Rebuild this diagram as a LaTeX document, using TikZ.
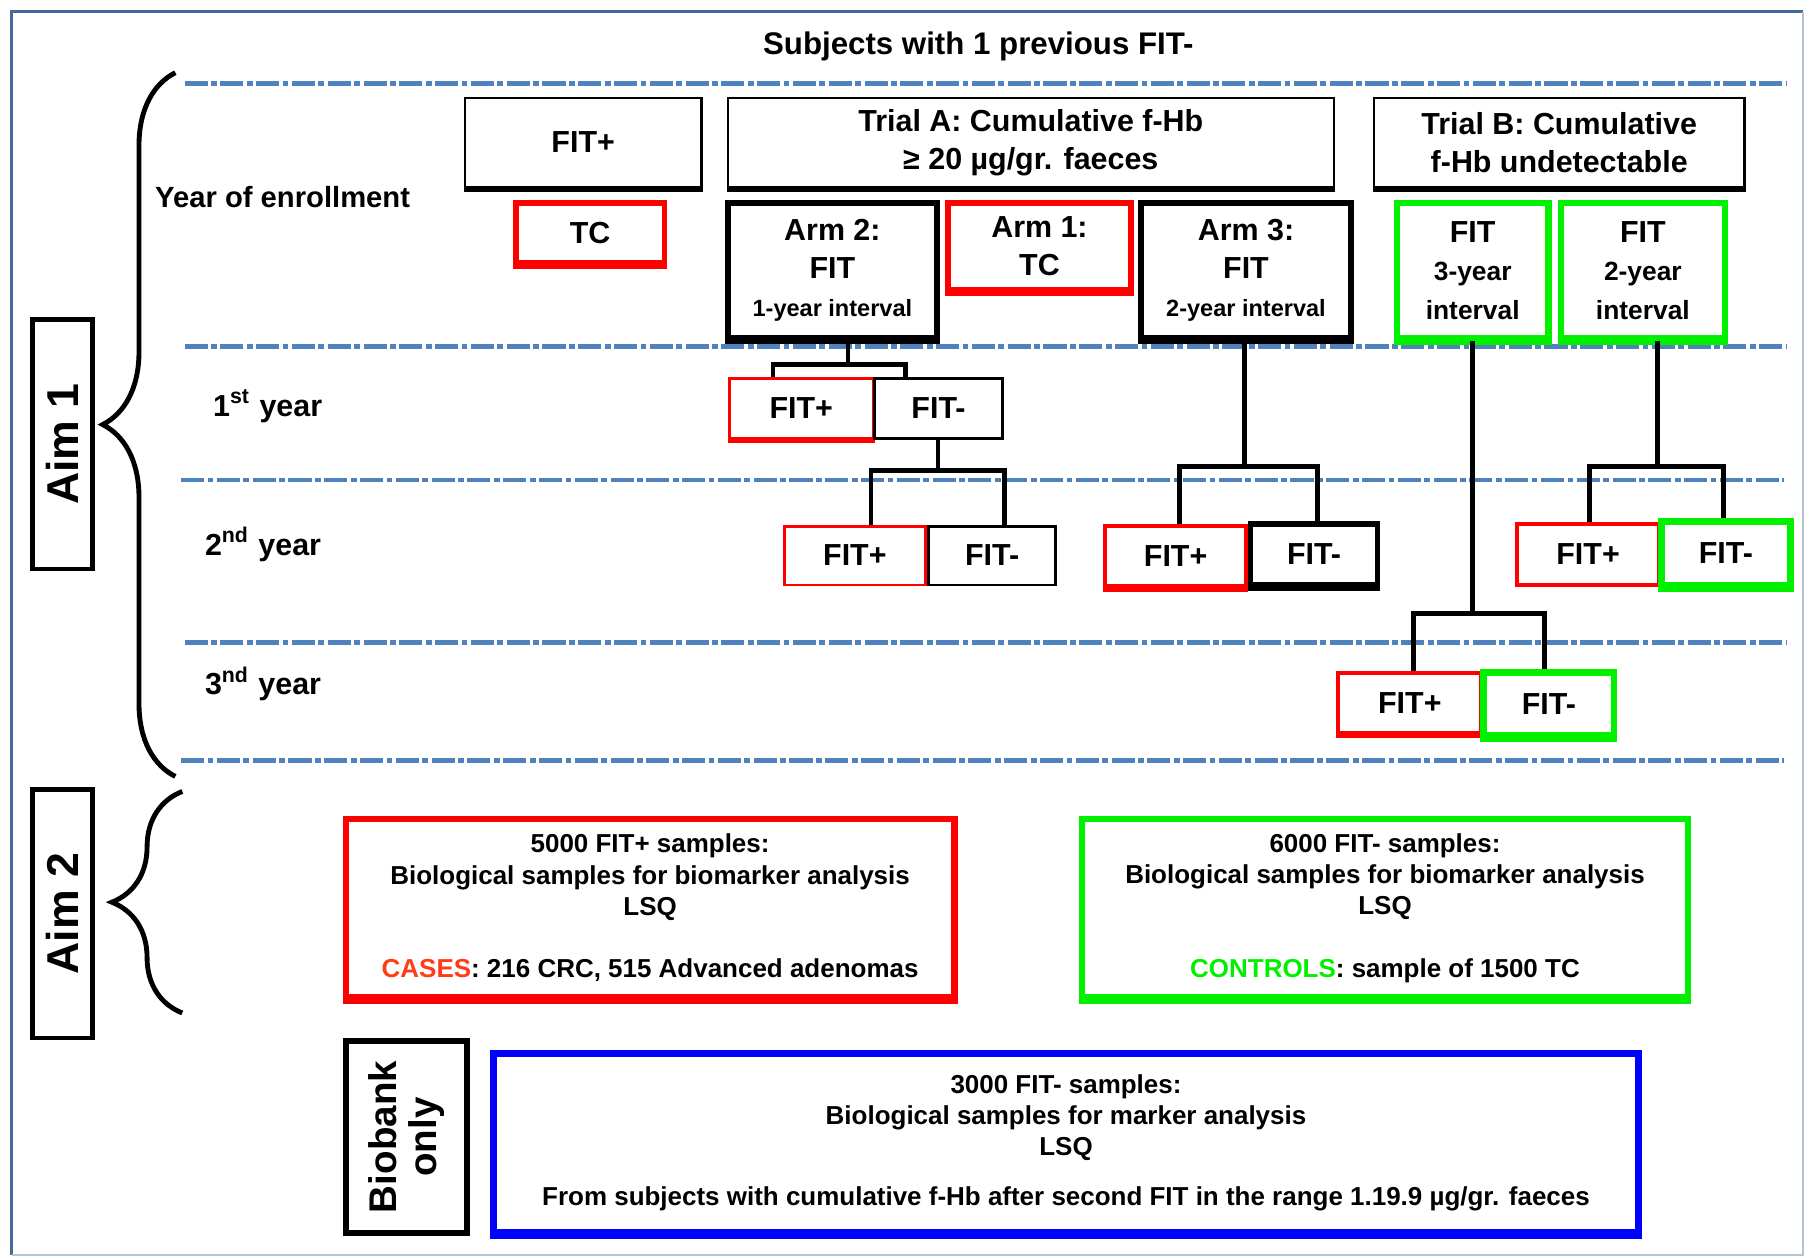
\documentclass[tikz,border=0pt]{standalone}
\usepackage{fontspec}
\setmainfont{Liberation Sans}
\usepackage{graphicx}
\usepackage{xcolor}
\usepackage{tikz}
\usetikzlibrary{positioning}
\usetikzlibrary{decorations.pathreplacing}

\definecolor{lineblue}{RGB}{79,129,189}
\definecolor{frameblue}{RGB}{70,105,155}
\definecolor{fitred}{RGB}{255,0,0}
\definecolor{fitgreen}{RGB}{0,240,0}
\definecolor{caseorange}{RGB}{255,60,20}
\definecolor{bankblue}{RGB}{0,0,255}

\newcommand{\lblfont}{\bfseries\fontsize{7.5}{9.4}\selectfont}
\newcommand{\smallfont}{\fontsize{5.8}{7}\selectfont}
\newcommand{\midfont}{\fontsize{6.5}{7.7}\selectfont}
\newcommand{\samplefont}{\bfseries\fontsize{6.4}{7.7}\selectfont}
\newcommand{\aimfont}{\bfseries\fontsize{11}{12}\selectfont}

\tikzset{
	box/.style={draw, fill=white, inner sep=0pt, align=center, font=\lblfont},
	thinbox/.style={box, line width=0.7pt},
	thickbox/.style={box, line width=1.4pt},
	sunk/.style={preaction={draw=#1, fill=#1, transform canvas={yshift=-0.03cm}}},
	conn/.style={line width=1.2pt},
	yearline/.style={lineblue, line width=1.2pt, dash pattern=on 0.2cm off 0.03cm on 0.05cm off 0.03cm},
	bracket/.style={decorate, decoration={brace, amplitude=#1}, line width=1.2pt},
	aimbox/.style={draw, line width=1.1pt, rotate=90, inner sep=0pt, align=center, font=\aimfont},
	samplebox/.style={box, line width=1.6pt, font=\samplefont},
}

\begin{document}
\begin{tikzpicture}[x=0.01cm, y=-0.01cm]
	\useasboundingbox (0,0) rectangle (1568,1090);
	
	%frame
	\draw[frameblue, line width=0.9pt] (10,1088) -- (10,10) -- (1563,10);
	\draw[frameblue!40, line width=0.5pt] (1563,10) -- (1563,1088) -- (10,1088);
	
	%title
	\node[font=\bfseries\fontsize{7.7}{9}\selectfont] (title) at (848,40) {Subjects with 1 previous FIT-};
	
	%year lines
	\draw[yearline] (160,72) -- (1548,72);
	\draw[yearline] (160,300) -- (1548,300);
	\draw[yearline] (157,416) -- (1546,416);
	\draw[yearline] (160,557) -- (1548,557);
	\draw[yearline] (157,659) -- (1546,659);
	
	%braces
	\draw[bracket=0.63cm] (152,673) -- (152,63);
	\draw[bracket=0.61cm] (158,878) -- (158,686);
	
	%aims
	\node[aimbox, minimum width=2.16cm, minimum height=0.52cm] (aim1) at (54,385) {Aim 1};
	\node[aimbox, minimum width=2.15cm, minimum height=0.52cm] (aim2) at (54,792) {Aim 2};
	\node[aimbox, line width=1.5pt, minimum width=1.66cm, minimum height=1.05cm, font=\bfseries\fontsize{9.5}{10}\selectfont] (bankonly) at (352.5,985.5) {Biobank\\only};
	
	%labels
	\node[font=\bfseries\fontsize{7.2}{9}\selectfont] (enroll) at (245,171) {Year of enrollment};
	\node[font=\lblfont] (yr1) at (232,352) {1\textsuperscript{st} year};
	\node[font=\lblfont] (yr2) at (228,472) {2\textsuperscript{nd} year};
	\node[font=\lblfont] (yr3) at (228,593) {3\textsuperscript{nd} year};
	
	%enrollment boxes
	\node[box, line width=0.6pt, sunk=black, minimum width=2.05cm, minimum height=0.77cm] (hdrfit) at (505.5,123.5) {FIT+};
	\node[box, line width=0.6pt, sunk=black, minimum width=5.25cm, minimum height=0.77cm] (trialA) at (893.5,123.5) {Trial A: Cumulative f-Hb\\≥ 20 µg/gr. faeces};
	\node[box, line width=0.6pt, sunk=black, minimum width=3.21cm, minimum height=0.77cm] (trialB) at (1351.5,123.5) {Trial B: Cumulative\\f-Hb undetectable};
	
	\node[thickbox, draw=fitred, sunk=fitred, minimum width=1.29cm, minimum height=0.52cm] (tc0) at (511.5,202) {TC};
	\node[thickbox, sunk=black, minimum width=1.81cm, minimum height=1.17cm] (arm2) at (721.5,234.5) {Arm 2:\\FIT\\{\smallfont 1-year interval}};
	\node[thickbox, draw=fitred, sunk=fitred, minimum width=1.58cm, minimum height=0.75cm] (arm1) at (901,213.5) {Arm 1:\\TC};
	\node[thickbox, sunk=black, minimum width=1.82cm, minimum height=1.17cm] (arm3) at (1080,234.5) {Arm 3:\\FIT\\{\smallfont 2-year interval}};
	\node[thickbox, line width=1.6pt, draw=fitgreen, sunk=fitgreen, minimum width=1.31cm, minimum height=1.17cm] (fit3) at (1276.5,234.5) {FIT\\{\midfont 3-year}\\{\midfont interval}};
	\node[thickbox, line width=1.6pt, draw=fitgreen, sunk=fitgreen, minimum width=1.42cm, minimum height=1.17cm] (fit2) at (1424,234.5) {FIT\\{\midfont 2-year}\\{\midfont interval}};
	
	%1st year
	\node[thinbox, draw=fitred, sunk=fitred, minimum width=1.25cm, minimum height=0.52cm] (y1p) at (694.5,354) {FIT+};
	\node[thinbox, minimum width=1.11cm, minimum height=0.52cm] (y1m) at (813.5,354) {FIT-};
	
	%2nd year
	\node[thinbox, draw=fitred, minimum width=1.22cm, minimum height=0.51cm] (y2ap) at (741,481.5) {FIT+};
	\node[thinbox, minimum width=1.10cm, minimum height=0.51cm] (y2am) at (860,481.5) {FIT-};
	\node[thinbox, line width=1pt, draw=fitred, sunk=fitred, minimum width=1.22cm, minimum height=0.52cm] (y2bp) at (1019,482) {FIT+};
	\node[thickbox, sunk=black, minimum width=1.10cm, minimum height=0.53cm] (y2bm) at (1139,480.5) {FIT-};
	\node[thinbox, line width=1pt, draw=fitred, minimum width=1.23cm, minimum height=0.53cm] (y2cp) at (1376.5,480.5) {FIT+};
	\node[thickbox, line width=1.6pt, draw=fitgreen, sunk=fitgreen, minimum width=1.12cm, minimum height=0.55cm] (y2cm) at (1496,479.5) {FIT-};
	
	%3rd year
	\node[thinbox, line width=1pt, draw=fitred, sunk=fitred, minimum width=1.24cm, minimum height=0.52cm] (y3p) at (1222,609) {FIT+};
	\node[thickbox, line width=1.6pt, draw=fitgreen, sunk=fitgreen, minimum width=1.13cm, minimum height=0.54cm] (y3m) at (1342.5,610) {FIT-};
	
	%connectors
	\coordinate (j1) at (735,316);
	\coordinate (j2) at (813,408);
	\coordinate (j3) at (1079,404);
	\coordinate (j4) at (1437,404);
	\coordinate (j5) at (1276,532);
	\draw[conn] (arm2.south -| j1) -- (j1);
	\draw[conn] (y1p.north -| 670,0) |- (j1) -| (y1m.north -| 785,0);
	\draw[conn] (y1m.south -| j2) -- (j2);
	\draw[conn] (y2ap.north -| 755,0) |- (j2) -| (y2am.north -| 871,0);
	\draw[conn] (arm3.south -| j3) -- (j3);
	\draw[conn] (y2bp.north -| 1022,0) |- (j3) -| (y2bm.north -| 1142,0);
	\draw[conn] (fit2.south -| j4) -- (j4);
	\draw[conn] (y2cp.north -| 1378,0) |- (j4) -| (y2cm.north -| 1494,0);
	\draw[conn] (fit3.south -| j5) -- (j5);
	\draw[conn] (y3p.north -| 1225,0) |- (j5) -| (y3m.north -| 1339,0);
	
	%samples
	\node[samplebox, draw=fitred, sunk=fitred, minimum width=5.27cm, minimum height=1.54cm] (cases) at (563.5,787) {5000 FIT+ samples:\\Biological samples for biomarker analysis\\LSQ\\[0.27cm]{\color{caseorange}CASES}: 216 CRC, 515 Advanced adenomas};
	\node[samplebox, draw=fitgreen, sunk=fitgreen, minimum width=5.25cm, minimum height=1.54cm] (controls) at (1200.5,787) {6000 FIT- samples:\\Biological samples for biomarker analysis\\LSQ\\[0.27cm]{\color{fitgreen}CONTROLS}: sample of 1500 TC};
	\node[samplebox, draw=bankblue, sunk=bankblue, minimum width=9.92cm, minimum height=1.55cm] (bank) at (924,990.5) {3000 FIT- samples:\\Biological samples for marker analysis\\LSQ\\[0.16cm]From subjects with cumulative f-Hb after second FIT in the range 1.19.9 µg/gr. faeces};
	
\end{tikzpicture}
\end{document}
